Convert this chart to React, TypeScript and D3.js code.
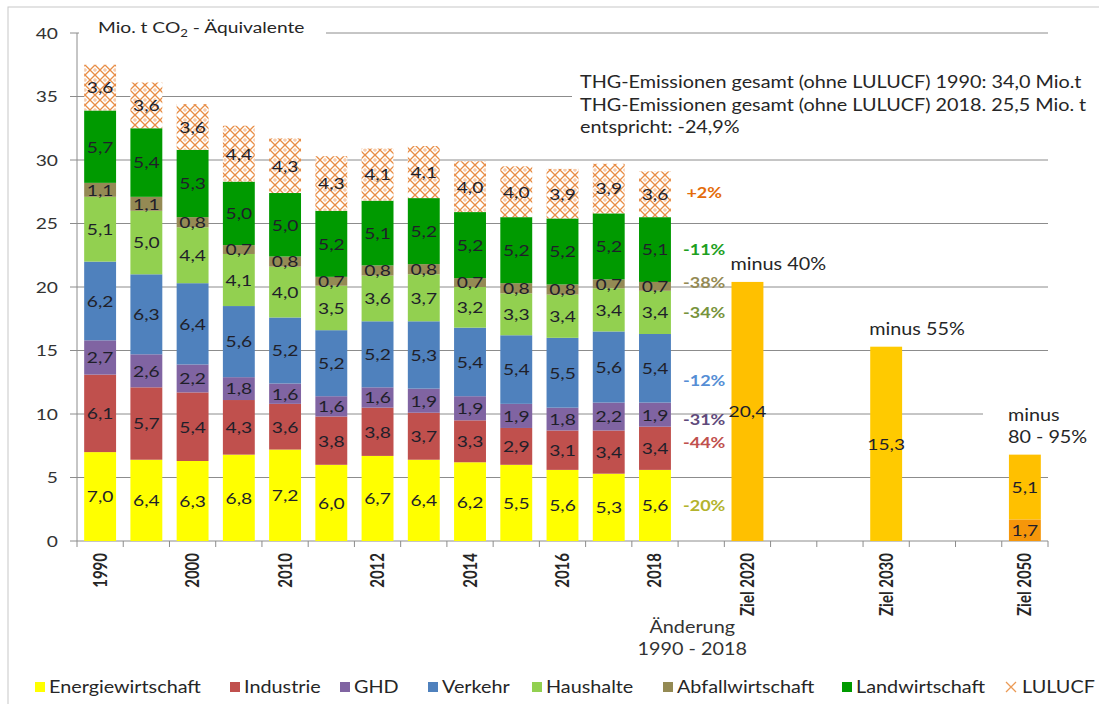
import * as d3 from "d3";

// Historic years (every other one gets a tick label, as in the source)
const YEARS = ["1990", "1995", "2000", "2005", "2010", "2011", "2012", "2013", "2014", "2015", "2016", "2017", "2018"];

// Sector values, Mio. t CO2-Äquivalente (bottom to top)
const ENERGIE = [7.0, 6.4, 6.3, 6.8, 7.2, 6.0, 6.7, 6.4, 6.2, 6.0, 5.6, 5.3, 5.6];
const INDUSTRIE = [6.1, 5.7, 5.4, 4.3, 3.6, 3.8, 3.8, 3.7, 3.3, 2.9, 3.1, 3.4, 3.4];
const GHD = [2.7, 2.6, 2.2, 1.8, 1.6, 1.6, 1.6, 1.9, 1.9, 1.9, 1.8, 2.2, 1.9];
const VERKEHR = [6.2, 6.3, 6.4, 5.6, 5.2, 5.2, 5.2, 5.3, 5.4, 5.4, 5.5, 5.6, 5.4];
const HAUSHALTE = [5.1, 5.0, 4.4, 4.1, 4.0, 3.5, 3.6, 3.7, 3.2, 3.3, 3.4, 3.4, 3.4];
const ABFALL = [1.1, 1.1, 0.8, 0.7, 0.8, 0.7, 0.8, 0.8, 0.7, 0.8, 0.8, 0.7, 0.7];
const LANDWIRT = [5.7, 5.4, 5.3, 5.0, 5.0, 5.2, 5.1, 5.2, 5.2, 5.2, 5.2, 5.2, 5.1];
const LULUCF = [3.6, 3.6, 3.6, 4.4, 4.3, 4.3, 4.1, 4.1, 4.0, 4.0, 3.9, 3.9, 3.6];

const SECTORS = ["Energiewirtschaft", "Industrie", "GHD", "Verkehr", "Haushalte", "Abfallwirtschaft", "Landwirtschaft", "LULUCF"];
const SECTOR_VALUES = [ENERGIE, INDUSTRIE, GHD, VERKEHR, HAUSHALTE, ABFALL, LANDWIRT, LULUCF];
const SECTOR_COLORS = ["#ffff00", "#c0504d", "#8064a2", "#4f81bd", "#92d050", "#948a54", "#009a00", "url(#lulucf)"];

// the source chart labels the 2015 Energiewirtschaft bar "5,5" though it is drawn at ~6,0
const LABEL_OVERRIDES: Record<string, string> = { "2015|Energiewirtschaft": "5,5" };

// change 1990 - 2018 per sector (same order as SECTORS)
const CHANGES = ["-20%", "-44%", "-31%", "-12%", "-34%", "-38%", "-11%", "+2%"];
const CHANGE_COLORS = ["#b3b32d", "#c0504d", "#604a7b", "#558ed5", "#77933c", "#948a54", "#1ea01e", "#e46c0a"];
const CHANGE_NUDGE = [0, -6, 5, 12, 0, -4, 0, -2];

// targets
const TARGETS = ["Ziel 2020", "Ziel 2030", "Ziel 2050"];
const TARGET_SEGMENTS = [[20.4], [15.3], [1.7, 5.1]];
const TARGET_COLORS = [["#ffc000"], ["#ffca00"], ["#f5960a", "#ffc000"]];
const TARGET_NOTES = [["minus 40%"], ["minus 55%"], ["minus", "80 - 95%"]];

const Y_TICKS = [0, 5, 10, 15, 20, 25, 30, 35, 40];

const DOMAIN = [...YEARS, "gap0", "Ziel 2020", "gap1", "gap2", "Ziel 2030", "gap3", "gap4", "Ziel 2050"];

const FONT = "Lato, Carlito, Calibri, 'Open Sans', sans-serif";
const TEXT = "#262626";
const AXIS = "#8c8c8c";
// the source picture is stretched horizontally, text included
const STRETCH = 1.2;

const fmt = (v: number) => v.toFixed(1).replace(".", ",");
const at = (x: number, y: number) => `translate(${x},${y}) scale(${STRETCH},1)`;

export default function App() {
  const x = d3.scaleBand<string>().domain(DOMAIN).range([77, 1048]).paddingInner(0).paddingOuter(0);
  const y = d3.scaleLinear().domain([0, 40]).range([541, 33]);
  const bw = x.bandwidth() * 0.69;
  const off = (x.bandwidth() - bw) / 2;

  const rows = YEARS.map((yr, i) => {
    const r: Record<string, number | string> = { year: yr };
    SECTORS.forEach((s, k) => (r[s] = SECTOR_VALUES[k][i]));
    return r;
  });
  const series = d3.stack<Record<string, number | string>>().keys(SECTORS)(rows as any);

  const last = series.map((s) => s[s.length - 1]);
  const gapX = (x("gap0") ?? 0) + x.bandwidth() / 2;

  // legend text start positions
  const legendX = [49, 244, 354, 442, 546, 677, 856, 1022];

  return (
    <svg width={1099} height={704} style={{ position: "absolute", left: 0, top: 0, background: "#fff" }} fontFamily={FONT}>
      <defs>
        <pattern id="lulucf" width={10} height={10} patternUnits="userSpaceOnUse">
          <rect width={10} height={10} fill="#fff" />
          <path d="M0,0 L10,10 M10,0 L0,10" stroke="#e88d45" strokeWidth={1.3} fill="none" />
          <circle cx={5} cy={0} r={1.2} fill="none" stroke="#eea36a" strokeWidth={0.8} />
          <circle cx={5} cy={10} r={1.2} fill="none" stroke="#eea36a" strokeWidth={0.8} />
        </pattern>
      </defs>
      <rect x={8} y={7} width={1100} height={710} fill="none" stroke="#c8c8c8" />

      {/* gridlines */}
      {Y_TICKS.filter((t) => t > 0).map((t) => (
        <line key={t} x1={77} x2={1048} y1={y(t)} y2={y(t)} stroke={AXIS} strokeWidth={1} />
      ))}

      {/* axes */}
      <line x1={77} x2={77} y1={y(40)} y2={y(0)} stroke={AXIS} />
      <line x1={77} x2={1048} y1={y(0)} y2={y(0)} stroke={AXIS} />
      {Y_TICKS.map((t) => (
        <g key={t}>
          <line x1={70} x2={77} y1={y(t)} y2={y(t)} stroke={AXIS} />
          <text transform={at(58, y(t))} textAnchor="end" dominantBaseline="central" fontSize={16} fill="#333">
            {t}
          </text>
        </g>
      ))}
      {d3.range(DOMAIN.length + 1).map((i) => {
        const px = 77 + i * x.step();
        return <line key={i} x1={px} x2={px} y1={541} y2={547} stroke={AXIS} />;
      })}

      {/* historic stacked bars */}
      {series.map((s, k) =>
        s.map((d, i) => (
          <rect
            key={`${k}-${i}`}
            x={(x(YEARS[i]) ?? 0) + off}
            width={bw}
            y={y(d[1])}
            height={y(d[0]) - y(d[1])}
            fill={SECTOR_COLORS[k]}
          />
        ))
      )}
      {series.map((s, k) =>
        s.map((d, i) => (
          <text
            key={`l${k}-${i}`}
            transform={at((x(YEARS[i]) ?? 0) + x.bandwidth() / 2, y((d[0] + d[1]) / 2))}
            textAnchor="middle"
            dominantBaseline="central"
            fontSize={16}
            fill="#1f1f2a"
          >
            {LABEL_OVERRIDES[`${YEARS[i]}|${SECTORS[k]}`] ?? fmt(d[1] - d[0])}
          </text>
        ))
      )}

      {/* change 1990 - 2018 */}
      {last.map((d, k) => (
        <text
          key={`c${k}`}
          transform={at(gapX + 3, y((d[0] + d[1]) / 2) + CHANGE_NUDGE[k])}
          textAnchor="middle"
          dominantBaseline="central"
          fontSize={15}
          fontWeight="bold"
          fill={CHANGE_COLORS[k]}
        >
          {CHANGES[k]}
        </text>
      ))}

      {/* target bars */}
      {TARGETS.map((t, j) => {
        const stacked = d3.cumsum(TARGET_SEGMENTS[j]);
        const x0 = (x(t) ?? 0) + off;
        const cx = (x(t) ?? 0) + x.bandwidth() / 2;
        const top = stacked[stacked.length - 1];
        return (
          <g key={t}>
            {TARGET_SEGMENTS[j].map((v, s) => (
              <rect key={s} x={x0} width={bw} y={y(stacked[s])} height={y(stacked[s] - v) - y(stacked[s])} fill={TARGET_COLORS[j][s]} />
            ))}
            {TARGET_SEGMENTS[j].map((v, s) => (
              <text key={`t${s}`} transform={at(cx, y(stacked[s] - v / 2))} textAnchor="middle" dominantBaseline="central" fontSize={16} fill="#1f1f2a">
                {fmt(v)}
              </text>
            ))}
            {TARGET_NOTES[j].length > 1 && (
              <rect x={983} y={y(top) - 62} width={112} height={52} fill="#fff" />
            )}
            {TARGET_NOTES[j].map((n, li) => (
              <text
                key={`n${li}`}
                transform={at(x0 - 1, y(top) - 18 - (TARGET_NOTES[j].length - 1 - li) * 22)}
                dominantBaseline="central"
                fontSize={16.5}
                fill={TEXT}
              >
                {n}
              </text>
            ))}
          </g>
        );
      })}

      {/* x tick labels */}
      {[...YEARS.filter((_, i) => i % 2 === 0), ...TARGETS].map((c) => (
        <text
          key={c}
          transform={`${at((x(c) ?? 0) + x.bandwidth() / 2, 553)} rotate(-90)`}
          textAnchor="end"
          dominantBaseline="central"
          fontSize={15}
          fontWeight="bold"
          fill={TEXT}
        >
          {c}
        </text>
      ))}
      <text transform={at(gapX - 9, 627)} textAnchor="middle" dominantBaseline="central" fontSize={16.5} fill="#333">
        Änderung
      </text>
      <text transform={at(gapX - 9, 649)} textAnchor="middle" dominantBaseline="central" fontSize={16.5} fill="#333">
        1990 - 2018
      </text>

      {/* title */}
      <rect x={79} y={14} width={247} height={34} fill="#fff" />
      <text transform={at(98, 33)} fontSize={16} fill={TEXT}>
        Mio. t CO<tspan fontSize={11} dy={4}>2</tspan>
        <tspan dy={-4}> - Äquivalente</tspan>
      </text>

      {/* annotation */}
      <rect x={572} y={68} width={523} height={70} fill="#fff" />
      {[
        "THG-Emissionen gesamt (ohne LULUCF) 1990: 34,0 Mio.t",
        "THG-Emissionen gesamt (ohne LULUCF) 2018. 25,5 Mio. t",
        "entspricht: -24,9%",
      ].map((line, i) => (
        <text key={i} transform={at(580, 82 + i * 22.5)} dominantBaseline="central" fontSize={16.5} fill={TEXT}>
          {line}
        </text>
      ))}

      {/* legend */}
      {SECTORS.map((s, k) => (
        <g key={s} transform={`translate(${legendX[k]},687)`}>
          {k < 7 ? (
            <rect x={-14} y={-5} width={10} height={10} fill={SECTOR_COLORS[k]} />
          ) : (
            <path d="M-16,-5 L-6,5 M-6,-5 L-16,5" stroke="#eb9a55" strokeWidth={1.3} />
          )}
          <text transform={at(0, 0)} dominantBaseline="central" fontSize={16.5} fill={TEXT}>
            {s}
          </text>
        </g>
      ))}
    </svg>
  );
}
